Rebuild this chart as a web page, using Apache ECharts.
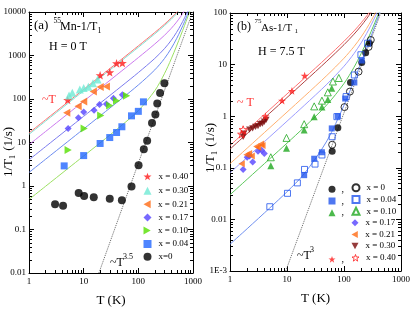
<!DOCTYPE html>
<html><head><meta charset="utf-8">
<script src="https://cdn.jsdelivr.net/npm/echarts@6/dist/echarts.min.js"></script>
<style>html,body{margin:0;padding:0;background:#fff}#c{width:415px;height:312px}</style>
</head><body><div id="c"></div>
<script>
// ---------- tick labels ----------
const xTickLabels = ['1', '10', '100', '1000'];
const aYTickLabels = ['0.01', '0.1', '1', '10', '100', '1000', '10000'];
const bYTickLabels = ['1E-3', '0.01', '0.1', '1', '10', '100'];

// ---------- panel (a): 55Mn 1/T1, H = 0 T  ([T (K), 1/T1 (1/s)]) ----------
const aX40 = [[5.1, 95], [20, 350], [30, 410], [40, 660], [51, 670]];
const aX30 = [[5.4, 120], [6.2, 140], [8.5, 165], [10, 178], [12.2, 190], [14.8, 230], [18, 280]];
const aX21 = [[4.9, 48], [7.9, 68], [10, 88], [15, 148], [20, 188], [26, 195]];
const aX17 = [[5.2, 21], [8, 37], [10, 50], [15.5, 55], [19.5, 75], [26, 77], [35, 104], [51, 125]];
const aX10 = [[5.2, 6.7], [10.2, 21], [20.5, 42], [30, 71], [40, 91], [61, 118]];
const aX04 = [[4.4, 2.9], [10, 5.0], [20, 9.5], [30, 13], [40, 17], [50, 23], [75, 41], [100, 52], [124, 86]];
const aX0 = [[3, 0.38], [4.2, 0.35], [8.1, 0.69], [10.2, 0.59], [15.3, 0.55], [30, 0.51], [50, 0.47], [75, 0.98],
             [101, 3.0], [126, 7.0], [145, 11], [178, 28], [205, 44], [222, 79], [250, 138], [300, 230]];
// fit curves
const aCurveT = [1, 2, 5, 10, 20, 50, 100, 200, 300, 400, 500, 600, 700, 800, 900, 1000];
const aFit40 = [16.6, 33.2, 83, 166, 332, 830, 1665, 3377, 5214, 7280, 9700, 12615, 16150, 20540, 25905, 32500];
const aFit30 = [15.4, 30.8, 77, 154, 308, 770, 1545, 3137, 4854, 6800, 9100, 11895, 15310, 19580, 24825, 31300];
const aFit21 = [8.9, 17.8, 44.5, 89, 178, 445, 895, 1837, 2904, 4200, 5850, 7995, 10760, 14380, 18975, 24800];
const aFit17 = [4, 8, 20, 40, 80, 200, 405, 857, 1434, 2240, 3400, 5055, 7330, 10460, 14565, 19900];
const aFit10 = [2.05, 4.1, 10.25, 20.5, 41, 103, 210, 467, 849, 1460, 2425, 3885, 5965, 8900, 12810, 17950];
const aFit04 = [0.49, 0.98, 2.45, 4.9, 9.8, 25, 54, 155, 381, 836, 1645, 2950, 4870, 7650, 11406, 16390];
const aGuide = [[19, 0.01], [985, 10000]];   // ~T^3.5

// ---------- panel (b): 75As 1/T1, H = 7.5 T ----------
const bX0f = [[62, 0.21], [78, 0.6], [130, 4.5], [205, 11], [240, 17], [280, 26]];
const bX0o = [[62, 0.28], [102, 1.5], [127, 3.0], [180, 7.3], [270, 22], [295, 30]];
const bX04f = [[20, 0.072], [30, 0.15], [41, 0.2], [61, 0.58], [78, 1.0], [105, 2.2], [152, 4.5], [205, 12]];
const bX04o = [[5, 0.0176], [10.2, 0.032], [15.2, 0.051], [20.3, 0.093], [31, 0.118], [41, 0.177], [62, 0.4],
               [75, 0.98], [109, 2.4], [152, 6.3], [198, 15.5], [260, 26]];
const bX10f = [[5.2, 0.11], [9.8, 0.24], [20, 0.54], [30, 0.98], [41, 1.5], [52, 2.1], [61, 3.5]];
const bX10o = [[5.2, 0.16], [9.8, 0.38], [20, 0.70], [30, 1.55], [41, 2.0], [52, 2.9], [64, 4.7], [81, 5.5]];
const bX17 = [[1.7, 0.093], [2.0, 0.16], [2.2, 0.17], [2.5, 0.13], [3.1, 0.21], [3.6, 0.22], [4.0, 0.19]];
const bX21 = [[1.6, 0.12], [1.95, 0.18], [2.15, 0.19], [2.4, 0.17], [2.9, 0.26], [3.1, 0.25], [3.5, 0.29], [3.7, 0.27]];
const bX30 = [[1.7, 0.40], [1.75, 0.46], [2.2, 0.55], [2.5, 0.58], [2.8, 0.62], [3.1, 0.64], [3.4, 0.70], [3.7, 0.72], [4.0, 0.78], [4.3, 0.85]];
const bX40f = [[4.2, 1.0], [8.2, 2.0], [12.2, 3.1], [20.4, 6.1]];
const bX40o = [[1.6, 0.45], [1.7, 0.55]];
const bCurveT = [1, 2, 5, 10, 20, 50, 100, 150, 200, 250, 300, 350, 400, 450, 500];
const bFit40 = [0.27, 0.54, 1.35, 2.70, 5.41, 13.66, 28.3, 44.9, 64.4, 87.8, 116.1, 150.2, 191.2, 240, 297.5];
const bFit30 = [0.23, 0.46, 1.15, 2.30, 4.61, 11.66, 24.3, 38.9, 56.4, 77.8, 104.1, 136.2, 175.2, 222, 277.5];
const bFit21 = [0.12, 0.24, 0.60, 1.20, 2.41, 6.16, 13.3, 22.4, 34.4, 50.3, 71.1, 97.7, 131.2, 172.5, 222.5];
const bFit17 = [0.08, 0.16, 0.40, 0.80, 1.61, 4.16, 9.3, 16.4, 26.4, 40.3, 59.1, 83.7, 115.2, 154.5, 202.5];
const bFit10 = [0.03, 0.06, 0.15, 0.30, 0.61, 1.66, 4.3, 8.9, 16.4, 27.8, 44.1, 66.2, 95.2, 132, 177.5];
const bFit04 = [0.0033, 0.0066, 0.0167, 0.0343, 0.0764, 0.33, 1.63, 4.9, 11.1, 21.1, 36.1, 56.9, 84.5, 120, 164];
const bGuide = [[9.5, 0.001], [441, 100]];   // ~T^3

// legend entries
const aLegend = ['x = 0.40', 'x = 0.30', 'x = 0.21', 'x = 0.17', 'x = 0.10', 'x = 0.04', 'x=0'];
const bLegend = ['x = 0', 'x = 0.04', 'x = 0.10', 'x = 0.17', 'x = 0.21', 'x = 0.30', 'x = 0.40'];
const bHasOpen = [true, true, true, false, false, false, true];

// minor tick mantissas
const minorMant = [2, 3, 4, 5, 6, 7, 8, 9];

const FF = "'Liberation Serif','DejaVu Serif',serif";
const STAR = 'path://M10,0L12.35,6.76L19.51,6.91L13.8,11.24L15.88,18.09L10,14L4.12,18.09L6.2,11.24L0.49,6.91L7.65,6.76Z';
const TRI_L = 'path://M0,5L9,0L9,10Z';
const TRI_R = 'path://M9,5L0,0L0,10Z';
const TRI_D = 'path://M0,0L10,0L5,9Z';
const lg = v => Math.round(Math.log10(v));
const A = s => 'a|' + s;          // series ids for panel (a)
const B = s => 'b|' + s;          // open / only symbol in panel (b)
const BF = s => 'bf|' + s;        // filled symbol in panel (b)
const shown = n => n.split('|')[1];

function xAx(grid, pos, show, name) {
  return {
    type: 'log', logBase: 10, gridIndex: grid, position: pos, min: 1, max: 1000, interval: 1,
    axisLine: { show: true, onZero: false, lineStyle: { color: '#000', width: 1 } },
    axisTick: { show: true, inside: true, length: 5, lineStyle: { color: '#000', width: 1 } },
    axisLabel: { show: show, fontFamily: FF, fontSize: 9, color: '#000', margin: 4, formatter: v => xTickLabels[lg(v)] },
    splitLine: { show: false }, minorTick: { show: false },
    name: name || '', nameLocation: 'middle', nameGap: 21,
    nameTextStyle: { fontFamily: FF, fontSize: 13, color: '#000' }
  };
}
function yAx(grid, pos, show, min, max, labels, off) {
  return {
    type: 'log', logBase: 10, gridIndex: grid, position: pos, min: min, max: max, interval: 1,
    axisLine: { show: true, onZero: false, lineStyle: { color: '#000', width: 1 } },
    axisTick: { show: true, inside: true, length: 5, lineStyle: { color: '#000', width: 1 } },
    axisLabel: { show: show, fontFamily: FF, fontSize: 9, color: '#000', margin: 3, formatter: v => labels[lg(v) + off] },
    splitLine: { show: false }, minorTick: { show: false }
  };
}

function minorTicks(xi, yi, data, dir) {
  return {
    type: 'custom', xAxisIndex: xi, yAxisIndex: yi, silent: true, z: 10, data: data, encode: { x: 0, y: 1 },
    renderItem: function (params, api) {
      const cs = params.coordSys;
      const p = api.coord([api.value(0), api.value(1)]);
      const st = { stroke: '#000', lineWidth: 1 };
      let s1, s2;
      if (dir === 'x') {
        const x = Math.round(p[0]) + 0.5;
        s1 = { x1: x, y1: cs.y + cs.height, x2: x, y2: cs.y + cs.height - 3 };
        s2 = { x1: x, y1: cs.y, x2: x, y2: cs.y + 3 };
      } else {
        const y = Math.round(p[1]) + 0.5;
        s1 = { x1: cs.x, y1: y, x2: cs.x + 3, y2: y };
        s2 = { x1: cs.x + cs.width, y1: y, x2: cs.x + cs.width - 3, y2: y };
      }
      return { type: 'group', children: [{ type: 'line', shape: s1, style: st }, { type: 'line', shape: s2, style: st }] };
    }
  };
}
function minorVals(lo, hi) {
  const out = [];
  for (let e = lo; e < hi; e++) minorMant.forEach(m => out.push(m * Math.pow(10, e)));
  return out;
}

function sc(name, xi, data, symbol, size, color, open) {
  return {
    type: 'scatter', name: name, xAxisIndex: xi, yAxisIndex: xi, data: data, symbol: symbol, symbolSize: size,
    symbolKeepAspect: true, z: 4,
    itemStyle: open ? { color: 'rgba(255,255,255,0)', borderColor: color, borderWidth: 1 } : { color: color }
  };
}
function fit(xi, T, vals, color) {
  return {
    type: 'line', xAxisIndex: xi, yAxisIndex: xi, data: T.map((t, i) => [t, vals[i]]), showSymbol: false,
    symbol: 'none', smooth: 0.3, clip: true, silent: true, z: 2, lineStyle: { color: color, width: 1 }
  };
}
function guide(xi, data) {
  return {
    type: 'line', xAxisIndex: xi, yAxisIndex: xi, data: data, showSymbol: false, symbol: 'none', clip: true,
    silent: true, z: 2, lineStyle: { color: '#666', width: 1, type: 'dotted' }
  };
}

function txt(x, y, s, size, extra) {
  return { type: 'text', x: x, y: y, silent: true, z: 20,
    style: Object.assign({ text: s, fontSize: size, fontFamily: FF, fill: '#000', align: 'left', verticalAlign: 'middle' }, extra || {}) };
}
function yLabel(cx, cy) {
  return { type: 'group', x: cx, y: cy, rotation: Math.PI / 2, silent: true,
    children: [txt(-27, 0, '1/T', 13), txt(-9, 3.5, '1', 8), txt(-4, 0, ' (1/s)', 13)] };
}

// one legend component per row, so rows sit exactly where the reference has them
function legRow(name, left, centerY, size, fontSize, withText, openColor) {
  const item = openColor
    ? { name: name, icon: STAR, itemStyle: { color: 'rgba(255,255,255,0)', borderColor: openColor, borderWidth: 1 } }
    : name;
  return {
    data: [item], formatter: withText ? shown : () => '', orient: 'horizontal', left: left,
    top: centerY - (withText ? 6 : size / 2), itemWidth: size, itemHeight: size, padding: 0, selectedMode: false,
    textStyle: { fontFamily: FF, fontSize: fontSize, color: '#000', padding: [0, 0, 0, 2] }
  };
}
const aRowY = [178, 192.3, 205.7, 219, 232, 245.5, 258.3];
const bRowY = [189.3, 201, 212.7, 224.3, 236, 247.5, 259.3];
const legends = [];
aLegend.forEach((n, i) => legends.push(legRow(A(n), 143.5, aRowY[i], 8, 9, true)));
bLegend.forEach((n, i) => {
  legends.push(legRow(B(n), 351.5, bRowY[i], 7, 9, true, i === 6 ? '#FF1A1A' : null));
  if (bHasOpen[i]) legends.push(legRow(BF(n), 328.5, bRowY[i], 7, 9, false));
});

const chart = echarts.init(document.getElementById('c'), null, { renderer: 'canvas' });

const option = {
  backgroundColor: '#fff',
  animation: false,
  grid: [
    { left: 29, top: 12, width: 164, height: 264 },
    { left: 230, top: 13, width: 171, height: 258 }
  ],
  xAxis: [xAx(0, 'bottom', true, 'T (K)'), xAx(0, 'top', false), xAx(1, 'bottom', true, 'T (K)'), xAx(1, 'top', false)],
  yAxis: [yAx(0, 'left', true, 0.01, 10000, aYTickLabels, 2), yAx(0, 'right', false, 0.01, 10000, aYTickLabels, 2),
          yAx(1, 'left', true, 0.001, 100, bYTickLabels, 3), yAx(1, 'right', false, 0.001, 100, bYTickLabels, 3)],
  legend: legends,
  series: [
    // panel (a) fits
    fit(0, aCurveT, aFit40, '#FF7272'),
    fit(0, aCurveT, aFit30, '#80E2D2'),
    fit(0, aCurveT, aFit21, '#CC7AEE'),
    fit(0, aCurveT, aFit17, '#7C7CEE'),
    fit(0, aCurveT, aFit10, '#6C8CF0'),
    fit(0, aCurveT, aFit04, '#9CE062'),
    guide(0, aGuide),
    // panel (a) data
    sc(A(aLegend[0]), 0, aX40, STAR, 9, '#FF1A1A'),
    sc(A(aLegend[1]), 0, aX30, 'triangle', 8, '#6FEAD4'),
    sc(A(aLegend[2]), 0, aX21, TRI_L, 8, '#FF6A13'),
    sc(A(aLegend[3]), 0, aX17, 'diamond', 7, '#5544FF'),
    sc(A(aLegend[4]), 0, aX10, TRI_R, 8, '#55E000'),
    sc(A(aLegend[5]), 0, aX04, 'rect', 7, '#2266FF'),
    sc(A(aLegend[6]), 0, aX0, 'circle', 8, '#000'),
    // panel (b) fits
    fit(2, bCurveT, bFit40, '#FF7272'),
    fit(2, bCurveT, bFit30, '#B04444'),
    fit(2, bCurveT, bFit21, '#FFB070'),
    fit(2, bCurveT, bFit17, '#9C9CFF'),
    fit(2, bCurveT, bFit10, '#5CC85C'),
    fit(2, bCurveT, bFit04, '#6F8FEF'),
    guide(2, bGuide),
    // panel (b) data
    sc(BF(bLegend[0]), 2, bX0f, 'circle', 7, '#000'),
    sc(B(bLegend[0]), 2, bX0o, 'circle', 7, '#000', true),
    sc(BF(bLegend[1]), 2, bX04f, 'rect', 6, '#2255EE'),
    sc(B(bLegend[1]), 2, bX04o, 'rect', 6, '#2255EE', true),
    sc(BF(bLegend[2]), 2, bX10f, 'triangle', 7, '#1FA81F'),
    sc(B(bLegend[2]), 2, bX10o, 'triangle', 7, '#1FA81F', true),
    sc(B(bLegend[3]), 2, bX17, 'diamond', 7, '#5544FF'),
    sc(B(bLegend[4]), 2, bX21, TRI_L, 7, '#FF6A13'),
    sc(B(bLegend[5]), 2, bX30, TRI_D, 7, '#7A0A0A'),
    sc(BF(bLegend[6]), 2, bX40f, STAR, 8, '#FF1A1A'),
    sc(B(bLegend[6]), 2, bX40o, STAR, 8, '#FF1A1A', true),
    // minor ticks
    minorTicks(0, 0, minorVals(0, 3).map(v => [v, 0.01]), 'x'),
    minorTicks(0, 0, minorVals(-2, 4).map(v => [1, v]), 'y'),
    minorTicks(2, 2, minorVals(0, 3).map(v => [v, 0.001]), 'x'),
    minorTicks(2, 2, minorVals(-3, 2).map(v => [1, v]), 'y')
  ],
  graphic: [
    // panel (a) annotations
    txt(34, 26, '(a)', 13),
    txt(53.5, 21, '55', 7.5),
    txt(60, 27, 'Mn-1/T', 12),
    txt(97.5, 31, '1', 8),
    txt(49, 47, 'H = 0 T', 12),
    txt(42, 100, '~T', 12, { fill: '#FF3030' }),
    txt(110, 263, '~T', 12),
    txt(123, 257, '3.5', 8),
    yLabel(9, 150),
    // panel (b) annotations
    txt(237, 27, '(b)', 12),
    txt(254.5, 21.5, '75', 7),
    txt(261, 28, 'As-1/T', 11),
    txt(294.5, 31.5, '1', 7),
    txt(258, 52, 'H = 7.5 T', 12),
    txt(237, 103, '~ T', 12, { fill: '#FF3030' }),
    txt(297, 256, '~T', 12),
    txt(310, 250, '3', 8),
    yLabel(211, 146),
    // commas of panel (b) legend
    txt(341.5, 189.3, ',', 10), txt(341.5, 201, ',', 10), txt(341.5, 212.7, ',', 10), txt(341.5, 259.3, ',', 10)
  ]
};
chart.setOption(option);
</script>
</body></html>
